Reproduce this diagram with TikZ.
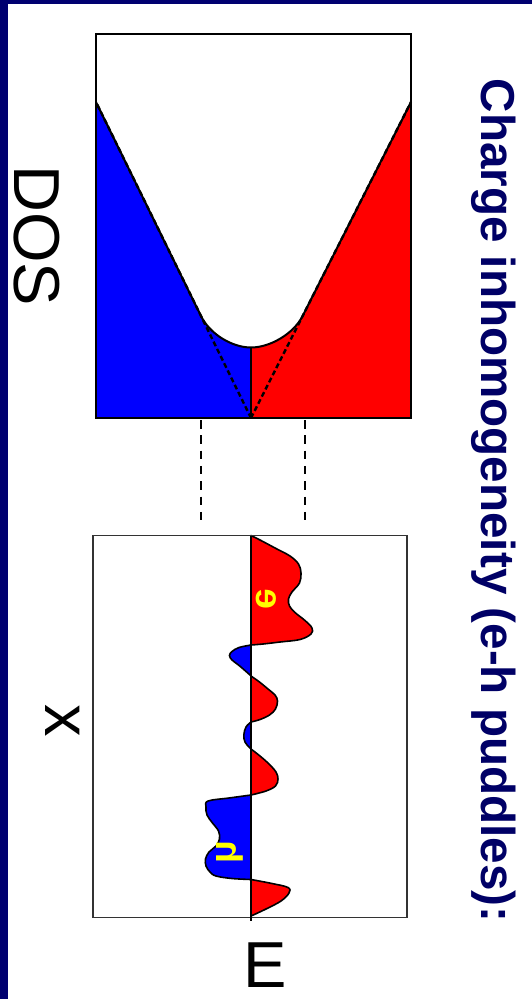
\documentclass[tikz,border=0pt]{standalone}
\usepackage{fontspec}
\setmainfont{Liberation Sans}
\usepackage{graphicx}
\definecolor{navy}{RGB}{0,0,112}
\definecolor{titlenavy}{RGB}{0,0,102}
\definecolor{ered}{RGB}{255,0,0}
\definecolor{eblue}{RGB}{0,0,255}
\definecolor{lblyellow}{RGB}{255,255,0}
\tikzset{
  panel/.style={draw=black, line width=1.8pt, fill=none},
  panelb/.style={draw=black!80, line width=1.6pt},
  dosline/.style={draw=black, line width=2pt, line join=round},
  vdash/.style={draw=black, line width=2.4pt, dash pattern=on 5pt off 3pt},
  guide/.style={draw=black, line width=2pt, dash pattern=on 8.5pt off 6.8pt},
  axisline/.style={draw=black, line width=1.2pt},
  puddle/.style={draw=black, line width=1.6pt, line join=round},
  bigtxt/.style={inner sep=0pt, font=\fontsize{65}{70}\selectfont, text=black},
  titletxt/.style={inner sep=0pt, font=\fontsize{47.6}{52}\selectfont\bfseries, text=titlenavy},
  ylabel/.style={inner sep=0pt, font=\fontsize{37}{40}\selectfont\bfseries, text=lblyellow}
}
\begin{document}
\begin{tikzpicture}[x=1pt,y=-1pt]
\useasboundingbox (0,0) rectangle (532,999);
\fill[white] (0,0) rectangle (532,999);
\fill[navy] (0,0) rectangle (7.5,999);
\fill[navy] (0,0) rectangle (532,4);

% ---------- DOS panel ----------
\coordinate (apex) at (251,418);
\coordinate (tl) at (96,102);
\coordinate (tr) at (411,102);
\coordinate (tanL) at (201,316);
\coordinate (tanR) at (302.6,316);
\coordinate (bot) at (251,347.5);
\fill[eblue] (tl) -- (tanL) .. controls (209.8,334) and (232,347.5) .. (bot) -- (apex) -- (96,418) -- cycle;
\fill[ered] (bot) .. controls (270,347.5) and (293.6,333.8) .. (tanR) -- (tr) -- (411,418) -- (apex) -- cycle;
\draw[dosline] (tl) -- (tanL) .. controls (209.8,334) and (232,347.5) .. (bot) .. controls (270,347.5) and (293.6,333.8) .. (tanR) -- (tr);
\draw[axisline] (bot) -- (apex);
\draw[vdash] (apex) -- (tl);
\draw[vdash] (apex) -- (tr);
\node[panel, minimum width=315pt, minimum height=384pt, inner sep=0pt] (dos) at (253.5,226) {};

% ---------- guide lines ----------
\coordinate (g1a) at (200.5,420);
\coordinate (g1b) at (200.5,523.6);
\coordinate (g2a) at (305.3,420);
\coordinate (g2b) at (305.3,523.6);
\draw[guide] (g1a) -- (g1b);
\draw[guide] (g2a) -- (g2b);

% ---------- x-E panel ----------
% red 1
\filldraw[puddle, fill=ered] plot[smooth, tension=0.6] coordinates {(251,535.5) (261,540.5) (276,548.5) (290,556) (298.5,564) (301,573) (299.5,583) (292,592) (288.5,599) (289.5,606) (295,612.5) (305,620.5) (312,628) (311,634) (300,639.5) (280,642) (263,644) (251,645)} -- cycle;
% blue 1
\filldraw[puddle, fill=eblue] plot[smooth, tension=0.6] coordinates {(251,645) (239,647.5) (232,651.5) (229.5,655.5) (232,660) (238.5,665) (245.5,671) (250,675) (251,676)} -- cycle;
% red 2
\filldraw[puddle, fill=ered] plot[smooth, tension=0.6] coordinates {(251,676) (259.5,682) (268,689) (275,695) (277.5,701) (275.5,709) (269.5,715) (260,719.5) (251,722)} -- cycle;
% blue 2
\filldraw[puddle, fill=eblue] plot[smooth, tension=0.6] coordinates {(251,722) (246,727) (243.8,735) (245,742) (249,747) (251,749)} -- cycle;
% red 3
\filldraw[puddle, fill=ered] plot[smooth, tension=0.6] coordinates {(251,749) (260,756) (269,764) (276,772) (278,779) (275.5,786) (266,791) (251,795)} -- cycle;
% blue 3
\filldraw[puddle, fill=eblue] plot[smooth, tension=0.6] coordinates {(251,795) (229,798) (208,801) (206,807) (207,815) (212.5,823) (218.5,831) (219.5,839) (216,846) (209,852) (205.5,859) (206,866) (210,872) (216,876) (232,878.5) (251,879.5)} -- cycle;
% red 4
\filldraw[puddle, fill=ered] plot[smooth, tension=0.6] coordinates {(251,879.5) (272,883.5) (288,887.5) (289,893) (281,901) (266,909) (251,916)} -- cycle;

\node[panelb, minimum width=314pt, minimum height=382pt, inner sep=0pt] (xe) at (250,726.5) {};
\coordinate (axtop) at (251,535.5);
\coordinate (axbot) at (251,921);
\draw[axisline] (axtop) -- (axbot);

% yellow labels
\node[ylabel] (lble) at (266,599) {\rotatebox{-90}{\reflectbox{e}}};
\node[ylabel] (lblh) at (230,852) {\rotatebox{-90}{\reflectbox{h}}};

% ---------- texts ----------
\node[bigtxt, rotate=-90, anchor=base west] (dosl) at (14.5,165) {DOS};
\node[bigtxt, rotate=-90, anchor=base] (xl) at (45.8,721) {x};
\node[bigtxt, anchor=base] (el) at (264.8,987) {E};
\node[titletxt, rotate=-90, anchor=base west] (title) at (481.5,78.6) {Charge inhomogeneity (e-h puddles):};
\end{tikzpicture}
\end{document}
